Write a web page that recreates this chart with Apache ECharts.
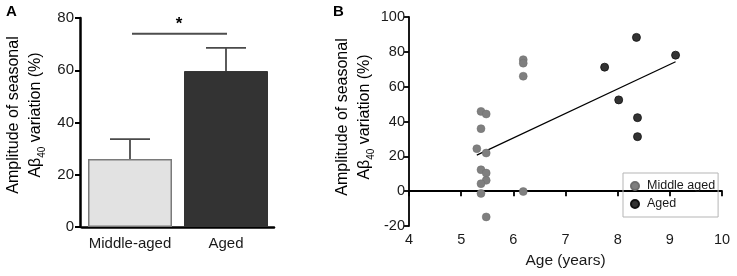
<!DOCTYPE html>
<html>
<head>
<meta charset="utf-8">
<style>
  html, body { margin: 0; padding: 0; background: #fff; }
  #chart { width: 737px; height: 276px; }
</style>
<script src="https://cdn.jsdelivr.net/npm/echarts@6/dist/echarts.min.js"></script>
</head>
<body>
<div id="chart"></div>
<script>
// panel A: group means with upper SEM
const groups = ['Middle-aged', 'Aged'];
const groupMeans = [26, 59.7];
const groupUpper = [33.6, 68.6];
const sigLevel = 74;

// panel B: age vs amplitude
const middleAged = [
  [5.30, 24.4], [5.38, 45.8], [5.48, 44.3], [5.38, 35.9], [5.48, 21.9],
  [5.38, 12.3], [5.48, 10.4], [5.48, 6.2], [5.38, 4.3], [5.38, -1.3],
  [5.48, -14.8], [6.19, 75.5], [6.19, 73.5], [6.19, 66.0], [6.19, -0.2],
];
const aged = [
  [7.75, 71.2], [8.36, 88.3], [9.11, 78.1], [8.02, 52.4], [8.38, 42.2], [8.38, 31.3],
];
const trendLine = [[5.30, 20.7], [9.11, 74.3]];

const FONT = 'Liberation Sans, Arial, sans-serif';
const INK = '#1a1a1a';

const chart = echarts.init(document.getElementById('chart'), null, { renderer: 'canvas' });

const yTitleRich = {
  a: { fontSize: 16, lineHeight: 22, fontFamily: FONT, color: INK },
  s: { fontSize: 10, lineHeight: 22, fontFamily: FONT, color: INK, verticalAlign: 'bottom' },
};
const yTitleText = '{a|Amplitude of seasonal}\n{a|Aβ}{s|40}{a| variation (%)}';

chart.setOption({
  animation: false,
  backgroundColor: '#fff',
  textStyle: { fontFamily: FONT },
  grid: [
    { left: 82, top: 18, width: 192, height: 209 },
    { left: 409, top: 17, width: 313, height: 209 },
  ],
  legend: {
    data: ['Middle aged', 'Aged'],
    orient: 'vertical',
    left: 623,
    top: 173,
    padding: [6, 3, 6, 7],
    itemWidth: 8,
    itemHeight: 8,
    itemGap: 4,
    icon: 'circle',
    borderColor: '#b5b5b5',
    borderWidth: 1,
    textStyle: { fontSize: 12.5, lineHeight: 14, color: INK, fontFamily: FONT, padding: [0, 0, 0, 3] },
  },
  xAxis: [
    {
      gridIndex: 0,
      type: 'category',
      data: groups,
      axisLine: { lineStyle: { color: '#000', width: 2.5 } },
      axisTick: { show: false },
      axisLabel: { color: INK, fontSize: 15, margin: 9, interval: 0 },
    },
    {
      gridIndex: 1,
      type: 'value',
      min: 4,
      max: 10,
      interval: 1,
      name: 'Age (years)',
      nameLocation: 'middle',
      nameGap: 27,
      nameTextStyle: { fontSize: 15.5, color: INK },
      axisLine: { lineStyle: { color: '#000', width: 1.8 } },
      axisTick: { length: 5, lineStyle: { width: 1.8, color: '#000' } },
      axisLabel: { color: INK, fontSize: 14.5, margin: 6 },
      splitLine: { show: false },
    },
  ],
  yAxis: [
    {
      gridIndex: 0,
      type: 'value',
      min: 0,
      max: 80,
      interval: 20,
      offset: 2,
      axisLine: { show: true, lineStyle: { color: '#000', width: 2.5 } },
      axisTick: { show: true, length: 5, lineStyle: { width: 2, color: '#000' } },
      axisLabel: { color: INK, fontSize: 15, margin: 6 },
      splitLine: { show: false },
    },
    {
      gridIndex: 1,
      type: 'value',
      min: -20,
      max: 100,
      interval: 20,
      axisLine: { show: true, lineStyle: { color: '#000', width: 1.8 } },
      axisTick: { show: true, length: 5, lineStyle: { width: 1.8, color: '#000' } },
      axisLabel: { color: INK, fontSize: 14.5, margin: 4 },
      splitLine: { show: false },
    },
  ],
  graphic: [
    { type: 'text', left: 6, top: 4, style: { text: 'A', font: 'bold 15px ' + FONT, fill: '#000' } },
    { type: 'text', left: 333, top: 4, style: { text: 'B', font: 'bold 15px ' + FONT, fill: '#000' } },
    {
      type: 'text', x: 25, y: 115, rotation: Math.PI / 2,
      style: { text: yTitleText, rich: yTitleRich, align: 'center', verticalAlign: 'middle' },
    },
    {
      type: 'text', x: 354, y: 117, rotation: Math.PI / 2,
      style: { text: yTitleText, rich: yTitleRich, align: 'center', verticalAlign: 'middle' },
    },
  ],
  series: [
    {
      type: 'bar',
      xAxisIndex: 0,
      yAxisIndex: 0,
      barWidth: 84,
      data: groupMeans.map((v, i) => ({
        value: v,
        itemStyle: i === 0
          ? { color: '#e2e2e2', borderColor: '#7a7a7a', borderWidth: 1.5 }
          : { color: '#333333', borderColor: '#333333', borderWidth: 1 },
      })),
    },
    {
      type: 'custom',
      xAxisIndex: 0,
      yAxisIndex: 0,
      data: groupMeans.map((v, i) => [i, v, groupUpper[i]]),
      z: 3,
      renderItem: (params, api) => {
        const base = api.coord([api.value(0), api.value(1)]);
        const top = api.coord([api.value(0), api.value(2)]);
        const style = { stroke: '#4a4a4a', lineWidth: 1.8 };
        return {
          type: 'group',
          children: [
            { type: 'line', shape: { x1: base[0], y1: base[1], x2: top[0], y2: top[1] }, style },
            { type: 'line', shape: { x1: top[0] - 20, y1: top[1], x2: top[0] + 20, y2: top[1] }, style },
          ],
        };
      },
    },
    {
      type: 'custom',
      xAxisIndex: 0,
      yAxisIndex: 0,
      data: [[0, 1, sigLevel]],
      renderItem: (params, api) => {
        const a = api.coord([api.value(0), api.value(2)]);
        const b = api.coord([api.value(1), api.value(2)]);
        return {
          type: 'group',
          children: [
            { type: 'line', shape: { x1: a[0] + 2, y1: a[1], x2: b[0] + 1, y2: b[1] }, style: { stroke: '#4d4d4d', lineWidth: 2 } },
            {
              type: 'text',
              x: (a[0] + b[0]) / 2 + 1,
              y: a[1] - 1,
              style: { text: '*', font: 'bold 17px ' + FONT, fill: '#000', align: 'center', verticalAlign: 'bottom' },
            },
          ],
        };
      },
    },
    {
      name: 'Middle aged',
      type: 'scatter',
      xAxisIndex: 1,
      yAxisIndex: 1,
      data: middleAged,
      symbolSize: 8,
      itemStyle: { color: '#7f7f7f', borderColor: '#6e6e6e', borderWidth: 0.5, opacity: 1 },
    },
    {
      name: 'Aged',
      type: 'scatter',
      xAxisIndex: 1,
      yAxisIndex: 1,
      data: aged,
      symbolSize: 8,
      itemStyle: { color: '#333333', borderColor: '#111', borderWidth: 0.8, opacity: 1 },
    },
    {
      type: 'line',
      xAxisIndex: 1,
      yAxisIndex: 1,
      data: trendLine,
      symbol: 'none',
      silent: true,
      z: 1,
      lineStyle: { color: '#000', width: 1.2 },
    },
  ],
});
</script>
</body>
</html>
